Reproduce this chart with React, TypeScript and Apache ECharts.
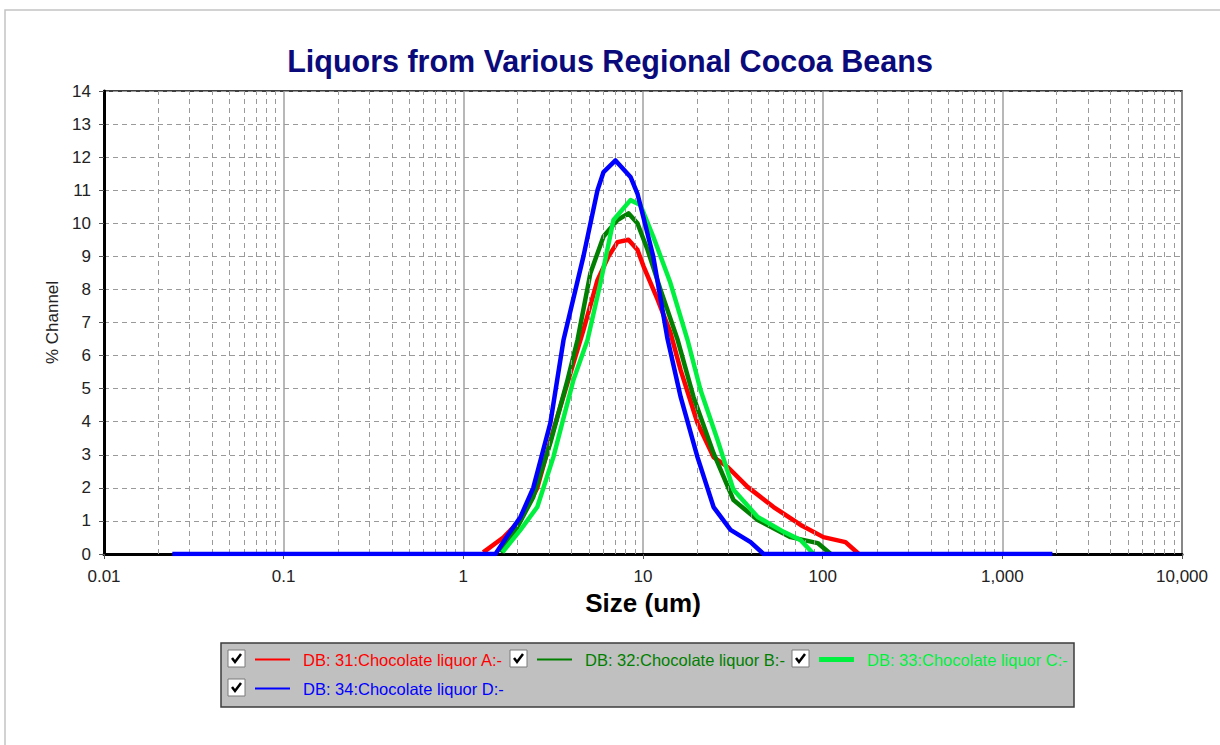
import React, { useEffect, useRef } from "react";
import * as echarts from "echarts";

const TITLE = "Liquors from Various Regional Cocoa Beans";
const X_NAME = "Size (um)";
const Y_NAME = "% Channel";
const X_TICK_LABELS = ["0.01", "0.1", "1", "10", "100", "1,000", "10,000"];

const NAME_A = "DB: 31:Chocolate liquor A:-";
const NAME_B = "DB: 32:Chocolate liquor B:-";
const NAME_C = "DB: 33:Chocolate liquor C:-";
const NAME_D = "DB: 34:Chocolate liquor D:-";

const seriesA: [number, number][] = [
  [1.29, 0.05], [1.67, 0.5], [2.08, 1.03], [2.58, 2.0], [3.17, 3.75],
  [4.1, 5.77], [4.66, 6.77], [5.58, 8.28], [6.43, 9.0], [7.21, 9.43], [8.3, 9.5],
  [9.31, 9.2], [10.07, 8.7], [12.05, 7.7], [14.2, 6.7], [16.2, 5.56], [20.1, 3.96],
  [24.7, 2.93], [29.6, 2.63], [38.2, 2.03], [53.3, 1.42], [75.4, 0.88], [101, 0.51],
  [134, 0.36], [159, 0],
];
const seriesB: [number, number][] = [
  [1.61, 0.05], [2.0, 0.82], [2.45, 1.72], [3.05, 3.36], [3.8, 5.26],
  [4.32, 6.47], [5.1, 8.5], [6.03, 9.6], [7.21, 10.1], [8.3, 10.3], [9.31, 10.0],
  [10.6, 9.2], [12.5, 8.0], [15.6, 6.47], [19.1, 4.75], [24.7, 3.05], [31.9, 1.63],
  [43.5, 1.03], [66.3, 0.51], [93.8, 0.33], [111, 0],
];
const seriesC: [number, number][] = [
  [1.65, 0.05], [2.08, 0.73], [2.58, 1.42], [3.17, 2.93], [4.1, 5.26],
  [4.91, 6.47], [5.8, 8.2], [6.85, 10.1], [8.52, 10.7], [9.68, 10.55], [11.4, 9.6],
  [14.2, 8.2], [17.7, 6.47], [20.9, 4.96], [26.0, 3.45], [31.9, 1.94], [43.5, 1.12],
  [60.7, 0.67], [75.4, 0.42], [89.1, 0],
];
const seriesD: [number, number][] = [
  [0.024, 0], [1.51, 0], [1.76, 0.55], [2.08, 1.12], [2.45, 2.0], [3.05, 3.96],
  [3.61, 6.47], [4.66, 9.0], [5.58, 11.0], [6.03, 11.55], [7.03, 11.9], [8.52, 11.4],
  [9.31, 10.9], [11.4, 9.0], [13.7, 6.5], [16.2, 4.75], [20.1, 2.93], [24.7, 1.42],
  [30.7, 0.73], [39.7, 0.36], [46.9, 0], [1900, 0],
];

const COLOR_A = "#ff0000";
const COLOR_B = "#007f00";
const COLOR_C = "#00f040";
const COLOR_D = "#0000ff";

// minor grid positions (2..9 within each decade)
const MINOR_GRID: number[] = [];
for (let e = -2; e <= 3; e++) {
  for (let m = 2; m <= 9; m++) {
    MINOR_GRID.push(Number((m * Math.pow(10, e)).toPrecision(3)));
  }
}

function checkbox(x: number, y: number) {
  return {
    type: "group",
    x,
    y,
    children: [
      { type: "rect", shape: { x: 0, y: 0, width: 17, height: 17 }, style: { fill: "#ffffff", stroke: "#7a7a7a", lineWidth: 1 } },
      { type: "polyline", shape: { points: [[4, 8], [7, 12], [13, 4]] }, style: { stroke: "#000000", lineWidth: 2.5, fill: null } },
    ],
  };
}

export default function App() {
  const ref = useRef<HTMLDivElement>(null);
  useEffect(() => {
    if (!ref.current) return;
    const chart = echarts.init(ref.current, undefined, { renderer: "svg" });
    const font = "'Liberation Sans', Arial, sans-serif";
    const mkLegend = (name: string, color: string, left: number, top: number, h: number) => ({
      show: true,
      left,
      top,
      padding: 0,
      itemWidth: 35,
      itemHeight: h,
      selectedMode: false,
      icon: "rect",
      data: [{ name, icon: "rect", textStyle: { color }, itemStyle: { color, borderWidth: 0 } }],
      textStyle: { fontSize: 16.5, fontFamily: font, color, padding: [0, 0, 0, 8] },
    });
    const mkSeries = (name: string, data: [number, number][], color: string, z: number) => ({
      name,
      type: "line",
      data,
      symbol: "none",
      showSymbol: false,
      z,
      lineStyle: { color, width: 4.5, join: "round" },
      itemStyle: { color },
    });
    const option: any = {
      animation: false,
      backgroundColor: "#ffffff",
      title: {
        text: TITLE,
        left: "center",
        top: 40,
        textStyle: { fontSize: 30.5, fontWeight: "bold", color: "#0a0a7a", fontFamily: font },
      },
      grid: { left: 104, top: 91, width: 1078, height: 463, show: true, borderColor: "#000", borderWidth: 1.5, backgroundColor: "transparent" },
      legend: [
        mkLegend(NAME_A, COLOR_A, 255, 651, 2),
        mkLegend(NAME_B, COLOR_B, 537, 651, 2),
        mkLegend(NAME_C, COLOR_C, 819, 651, 5),
        mkLegend(NAME_D, COLOR_D, 255, 680, 2),
      ],
      xAxis: {
        type: "log",
        logBase: 10,
        min: 0.01,
        max: 10000,
        splitNumber: 6,
        name: X_NAME,
        nameLocation: "middle",
        nameGap: 36,
        nameTextStyle: { fontSize: 26, fontWeight: "bold", color: "#000", fontFamily: font },
        axisLine: { show: true, onZero: false, lineStyle: { color: "#000", width: 3 } },
        axisTick: { show: true, length: 5, lineStyle: { color: "#555" } },
        axisLabel: {
          fontSize: 17,
          color: "#222",
          fontFamily: font,
          margin: 14,
          formatter: (v: number) => X_TICK_LABELS[Math.round(Math.log10(v)) + 2] ?? String(v),
        },
        splitLine: { show: true, lineStyle: { color: "#a0a0a0", width: 1.5, type: "solid" } },
      },
      yAxis: {
        type: "value",
        min: 0,
        max: 14,
        interval: 1,
        name: Y_NAME,
        nameLocation: "middle",
        nameGap: 41,
        nameTextStyle: { fontSize: 17, color: "#222", fontFamily: font },
        axisLine: { show: true, lineStyle: { color: "#000", width: 3 } },
        axisTick: { show: true, length: 5, lineStyle: { color: "#555" } },
        axisLabel: { fontSize: 17, color: "#222", fontFamily: font, margin: 13 },
        splitLine: { show: true, lineStyle: { color: "#9a9a9a", width: 1, type: [5, 4] } },
      },
      series: [
        {
          name: "minor-grid",
          type: "line",
          data: [],
          silent: true,
          z: 1,
          markLine: {
            silent: true,
            symbol: ["none", "none"],
            label: { show: false },
            lineStyle: { color: "#9a9a9a", width: 1, type: [5, 4] },
            data: MINOR_GRID.map((v) => ({ xAxis: v })),
          },
        },
        mkSeries(NAME_A, seriesA, COLOR_A, 3),
        mkSeries(NAME_B, seriesB, COLOR_B, 4),
        mkSeries(NAME_C, seriesC, COLOR_C, 5),
        mkSeries(NAME_D, seriesD, COLOR_D, 6),
      ],
      graphic: [
        { type: "rect", z: -10, shape: { x: 5, y: 10, width: 1240, height: 760 }, style: { fill: "none", stroke: "#c4c4c4", lineWidth: 1.5 } },
        { type: "rect", z: -5, shape: { x: 221, y: 643, width: 853, height: 64 }, style: { fill: "#c0c0c0", stroke: "#3c3c3c", lineWidth: 1.5 } },
        checkbox(228, 650),
        checkbox(510, 650),
        checkbox(792, 650),
        checkbox(228, 679),
      ],
    };
    chart.setOption(option);
    return () => chart.dispose();
  }, []);
  return <div ref={ref} style={{ position: "fixed", left: 0, top: 0, width: 1220, height: 745 }} />;
}
